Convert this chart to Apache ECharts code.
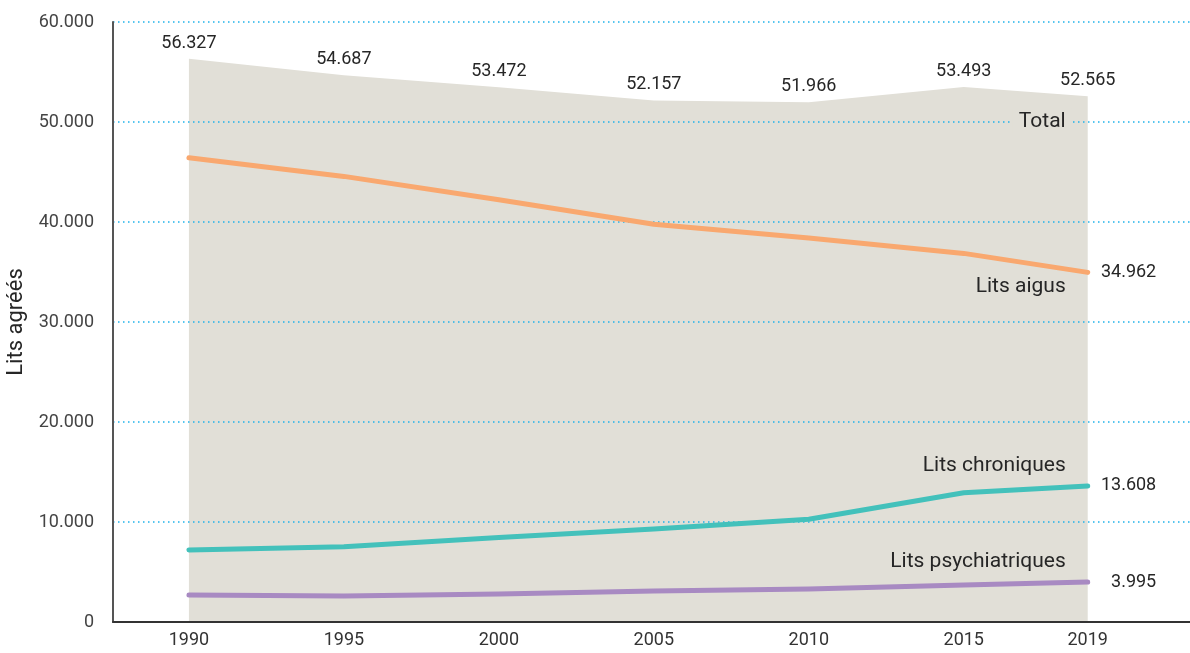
<!DOCTYPE html>
<html>
<head>
<meta charset="utf-8">
<script src="https://cdn.jsdelivr.net/npm/echarts@6/dist/echarts.min.js"></script>
<style>
  html, body { margin: 0; padding: 0; background: #fff; }
  #chart { width: 1190px; height: 653px; }
</style>
</head>
<body>
<div id="chart"></div>
<script>
// années
var years = [1990, 1995, 2000, 2005, 2010, 2015, 2019];
// séries (lits agréés)
var total = [56327, 54687, 53472, 52157, 51966, 53493, 52565];
var litsAigus = [46430, 44560, 42220, 39770, 38400, 36860, 34962];
var litsChroniques = [7200, 7530, 8450, 9300, 10270, 12930, 13608];
var litsPsy = [2700, 2600, 2800, 3090, 3300, 3700, 3995];

var FONT = 'Roboto, sans-serif';
var TXT = '#262626';

function fmt(v) {
	return String(v).replace(/\B(?=(\d{3})+(?!\d))/g, '.');
}
function pairs(arr) {
	return years.map(function (y, i) { return [y, arr[i]]; });
}

// une série ligne avec nom à la fin et valeur finale à droite
function lineSeries(name, data, color, nameOffset) {
	return {
		name: name,
		type: 'line',
		z: 4,
		data: pairs(data),
		symbol: 'circle',
		symbolSize: 1,
		itemStyle: { color: color },
		lineStyle: { color: color, width: 5, cap: 'round', join: 'round' },
		label: {
			show: true,
			position: 'right',
			align: 'right',
			distance: 68,
			fontFamily: FONT,
			fontSize: 18,
			color: TXT,
			formatter: function (p) {
				return p.dataIndex === data.length - 1 ? fmt(p.value[1]) : '';
			}
		},
		endLabel: {
			show: true,
			formatter: '{a}',
			align: 'right',
			distance: 0,
			offset: nameOffset,
			fontFamily: FONT,
			fontSize: 21,
			color: TXT
		}
	};
}

var chart = echarts.init(document.getElementById('chart'));
chart.setOption({
	animation: false,
	grid: { left: 113, right: 0, top: 22, bottom: 31, containLabel: false, outerBoundsMode: 'none' },
	xAxis: {
		type: 'value',
		min: 1987.55,
		max: 2022.3,
		z: 5,
		axisLine: { show: true, lineStyle: { color: '#333', width: 2 } },
		axisTick: { show: false },
		splitLine: { show: false },
		axisLabel: {
			customValues: years,
			margin: 9,
			fontFamily: FONT,
			fontSize: 18,
			color: '#333',
			formatter: function (v) { return String(v); }
		}
	},
	yAxis: {
		type: 'value',
		min: 0,
		max: 60000,
		interval: 10000,
		z: 2,
		name: 'Lits agréés',
		nameLocation: 'middle',
		nameGap: 83,
		nameTextStyle: { fontFamily: FONT, fontSize: 22, color: TXT },
		axisLine: { show: true, lineStyle: { color: '#555', width: 2 } },
		axisTick: { show: false },
		axisLabel: {
			margin: 19,
			fontFamily: FONT,
			fontSize: 18,
			color: '#444',
			formatter: function (v) { return fmt(v); }
		},
		splitLine: {
			show: true,
			lineStyle: { color: '#1fb2ea', width: 1.5, type: [1.5, 3.5] }
		}
	},
	series: [
		{
			// surface grise du total
			name: 'Total',
			type: 'line',
			z: 1,
			data: pairs(total),
			symbol: 'none',
			lineStyle: { width: 0 },
			areaStyle: { color: '#e1dfd7', opacity: 1 }
		},
		{
			// étiquettes du total
			name: 'Total',
			type: 'line',
			z: 4,
			data: pairs(total),
			symbol: 'circle',
			symbolSize: 1,
			itemStyle: { color: 'rgba(0,0,0,0)' },
			lineStyle: { opacity: 0 },
			label: {
				show: true,
				position: 'top',
				distance: 6,
				fontFamily: FONT,
				fontSize: 18,
				color: TXT,
				formatter: function (p) { return fmt(p.value[1]); }
			},
			endLabel: {
				show: true,
				formatter: '{a}',
				align: 'right',
				distance: 0,
				offset: [-16, 25],
				fontFamily: FONT,
				fontSize: 21,
				color: TXT,
				backgroundColor: '#e1dfd7',
				padding: [2, 6]
			}
		},
		lineSeries('Lits aigus', litsAigus, '#f9a86f', [-22, 14]),
		lineSeries('Lits chroniques', litsChroniques, '#43c1bb', [-22, -20]),
		lineSeries('Lits psychiatriques', litsPsy, '#a88ac2', [-22, -20])
	]
});
</script>
</body>
</html>
